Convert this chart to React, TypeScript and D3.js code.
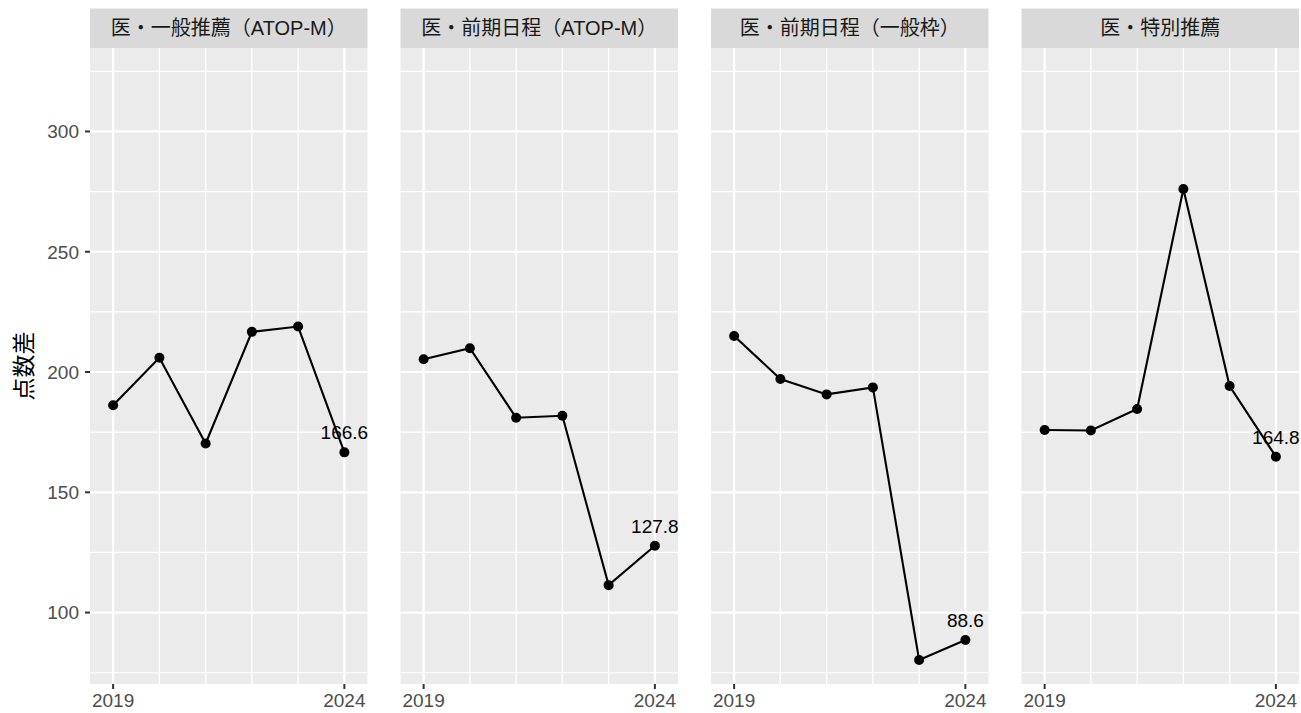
import * as d3 from 'd3';

// 年度と各区分の点数差
const years = [2019, 2020, 2021, 2022, 2023, 2024];
const facetNames = ['医・一般推薦（ATOP-M）', '医・前期日程（ATOP-M）', '医・前期日程（一般枠）', '医・特別推薦'];
const ippanAtop = [186.2, 205.9, 170.3, 216.7, 218.9, 166.6];
const zenkiAtop = [205.3, 209.9, 181.0, 181.8, 111.4, 127.8];
const zenkiIppan = [215.0, 197.1, 190.7, 193.6, 80.3, 88.6];
const tokubetsu = [175.9, 175.7, 184.6, 276.1, 194.2, 164.8];
const seriesList = [ippanAtop, zenkiAtop, zenkiIppan, tokubetsu];

const yMajor = [100, 150, 200, 250, 300];
const yMinor = [75, 125, 175, 225, 275, 325];
const xLabelled = [2019, 2024];

const W = 1301;
const H = 713;
const PANEL_LEFT = 90;
const PANEL_W = 277.5;
const PANEL_STRIDE = 310.5;
const STRIP_TOP = 8.5;
const PANEL_TOP = 48;
const PANEL_BOTTOM = 684;

const LATIN = '"Liberation Sans", Arial, "Noto Sans CJK JP", sans-serif';
const TICK_SIZE = 19;

export default function App() {
  const y = d3.scaleLinear().domain([70.3, 334.7]).range([PANEL_BOTTOM, PANEL_TOP]);
  const x = d3.scaleLinear().domain([2018.5, 2024.5]).range([0, PANEL_W]);
  const line = d3
    .line<number>()
    .x((_, i) => x(years[i]))
    .y((d) => y(d));

  return (
    <svg width={W} height={H} style={{ position: 'absolute', left: 0, top: 0, background: '#fff' }}>
      {/* y 軸 */}
      <text
        transform={`translate(22,${(PANEL_TOP + PANEL_BOTTOM) / 2}) rotate(-90)`}
        textAnchor="middle"
        dominantBaseline="central"
        fontFamily='"Noto Sans CJK JP", sans-serif'
        fontSize={23}
        fill="#000"
      >
        点数差
      </text>
      {yMajor.map((v) => (
        <g key={v}>
          <line x1={PANEL_LEFT - 5} x2={PANEL_LEFT} y1={y(v)} y2={y(v)} stroke="#333" strokeWidth={2} />
          <text
            x={PANEL_LEFT - 11}
            y={y(v)}
            dy="0.36em"
            textAnchor="end"
            fontFamily={LATIN}
            fontSize={TICK_SIZE}
            fill="#4d4d4d"
          >
            {v}
          </text>
        </g>
      ))}

      {facetNames.map((name, fi) => {
        const left = PANEL_LEFT + fi * PANEL_STRIDE;
        const vals = seriesList[fi];
        const last = vals.length - 1;
        return (
          <g key={name} transform={`translate(${left},0)`}>
            <rect x={0} y={STRIP_TOP} width={PANEL_W} height={PANEL_TOP - STRIP_TOP} fill="#d9d9d9" />
            <text
              x={PANEL_W / 2}
              y={(STRIP_TOP + PANEL_TOP) / 2}
              dy="0.36em"
              textAnchor="middle"
              fontFamily={LATIN}
              fontSize={20}
              fill="#1a1a1a"
            >
              {name}
            </text>
            <rect x={0} y={PANEL_TOP} width={PANEL_W} height={PANEL_BOTTOM - PANEL_TOP} fill="#ebebeb" />
            {yMinor.map((v) => (
              <line key={`mn${v}`} x1={0} x2={PANEL_W} y1={y(v)} y2={y(v)} stroke="#fff" strokeWidth={1.1} />
            ))}
            {yMajor.map((v) => (
              <line key={`mj${v}`} x1={0} x2={PANEL_W} y1={y(v)} y2={y(v)} stroke="#fff" strokeWidth={2.2} />
            ))}
            {years.map((yr) => (
              <line
                key={yr}
                x1={x(yr)}
                x2={x(yr)}
                y1={PANEL_TOP}
                y2={PANEL_BOTTOM}
                stroke="#fff"
                strokeWidth={xLabelled.includes(yr) ? 2.2 : 1.3}
              />
            ))}
            {xLabelled.map((yr) => (
              <g key={`t${yr}`}>
                <line x1={x(yr)} x2={x(yr)} y1={PANEL_BOTTOM} y2={PANEL_BOTTOM + 5} stroke="#333" strokeWidth={2} />
                <text
                  x={x(yr)}
                  y={PANEL_BOTTOM + 23}
                  textAnchor="middle"
                  fontFamily={LATIN}
                  fontSize={TICK_SIZE}
                  fill="#4d4d4d"
                >
                  {yr}
                </text>
              </g>
            ))}
            <path d={line(vals) ?? ''} fill="none" stroke="#000" strokeWidth={2.1} />
            {vals.map((v, i) => (
              <circle key={i} cx={x(years[i])} cy={y(v)} r={5} fill="#000" />
            ))}
            <text
              x={x(years[last])}
              y={y(vals[last]) - 20}
              dy="0.36em"
              textAnchor="middle"
              fontFamily={LATIN}
              fontSize={TICK_SIZE}
              fill="#000"
            >
              {vals[last].toFixed(1)}
            </text>
          </g>
        );
      })}
    </svg>
  );
}
